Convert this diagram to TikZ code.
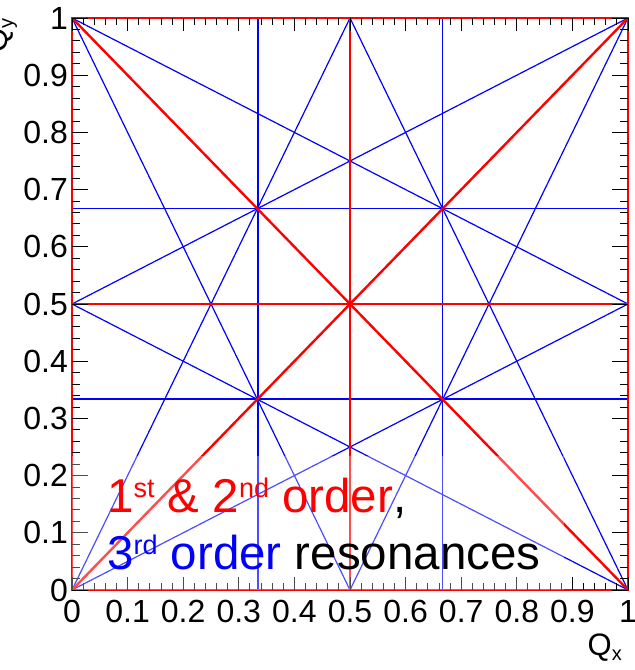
\documentclass[tikz,border=0pt]{standalone}
\usepackage{fontspec}
\setmainfont{Liberation Sans}
\usepackage{xcolor}
\usepackage{tikz}
\usetikzlibrary{positioning}
\definecolor{resred}{RGB}{255,0,0}
\definecolor{resblue}{RGB}{0,0,255}
\definecolor{ink}{RGB}{0,0,0}
\newcommand{\supx}[1]{\raisebox{15pt}{\fontsize{27}{27}\selectfont #1}}
\newcommand{\subx}[1]{\raisebox{-6pt}{\fontsize{20}{20}\selectfont #1}}
\tikzset{
  order12/.style ={color=resred,  line width=2.4pt},
  order3/.style  ={color=resblue, line width=1.2pt},
  tickmark/.style={color=ink, line width=0.9pt},
  ticklab/.style ={font=\fontsize{32}{32}\selectfont, text=ink, inner sep=0pt},
  axtitle/.style ={font=\fontsize{31}{31}\selectfont, text=ink, inner sep=0pt},
  legend/.style  ={font=\fontsize{47.5}{47.5}\selectfont, inner sep=0pt, anchor=base west},
  veil/.style    ={fill=white, opacity=0.3, draw=none}
}

\begin{document}
\begin{tikzpicture}[x=1pt, y=1pt]
  \useasboundingbox (0,0) rectangle (635,670);

  \begin{scope}[shift={(72pt,80pt)}, x=556pt, y=572pt]
    % 3rd order
    \foreach \xa/\ya/\xb/\yb in {1/0/0/0.5, 0/1/1/0.5, 0.5/0/0/1, 1/0/0.5/1,
                                 0/0/1/0.5, 0/0.5/1/1, 0/0/0.5/1, 0.5/0/1/1,
                                 0.3345/0/0.3345/1, 0.66667/0/0.66667/1,
                                 0/0.334/1/0.334, 0/0.66667/1/0.66667}
      \draw[order3] (\xa,\ya) -- (\xb,\yb);

    % 1st & 2nd order
    \draw[order12] (0,0) -- (1,1);
    \draw[order12] (0,1) -- (1,0);
    \draw[order12] (0.5,0) -- (0.5,1);
    \draw[order12] (0,0.5) -- (1,0.5);

    % frame and ticks
    \draw[order12] (0,0) rectangle (1,1);
    \foreach \i in {0,...,50} {
      \pgfmathsetmacro\lx{ifthenelse(mod(\i,5)==0,13,7)}
      \pgfmathsetmacro\ly{ifthenelse(mod(\i,5)==0,16,8)}
      \draw[tickmark] (\i/50,0) -- ++(0pt,\lx pt);
      \draw[tickmark] (\i/50,1) -- ++(0pt,-\lx pt);
      \draw[tickmark] (0,\i/50) -- ++(\ly pt,0pt);
      \draw[tickmark] (1,\i/50) -- ++(-\ly pt,0pt);
    }

    % legend background
    \fill[veil] (0,0) rectangle (0.885,0.235);

    % tick labels
    \foreach \t [count=\k] in {0,0.1,0.2,0.3,0.4,0.5,0.6,0.7,0.8,0.9,1} {
      \node[ticklab, anchor=north] (xl\k) at (\t,0) [yshift=-10pt] {\t};
      \node[ticklab, anchor=east]  (yl\k) at (0,\t) [xshift=-4pt] {\t};
    }
  \end{scope}

  % axis titles
  \node[axtitle, anchor=base east] (qx) at (622,15) {Q\subx{x}};
  \node[axtitle, anchor=base east, rotate=90] (qy) at (7,652) {Q\subx{y}};

  % legend text
  \node[legend] (line1) at (107,157)
    {\textcolor{resred}{1\supx{st} \& 2\supx{nd} order},};
  \node[legend] (line2) at (107,100)
    {\textcolor{resblue}{3\supx{rd} order} resonances};
\end{tikzpicture}
\end{document}
